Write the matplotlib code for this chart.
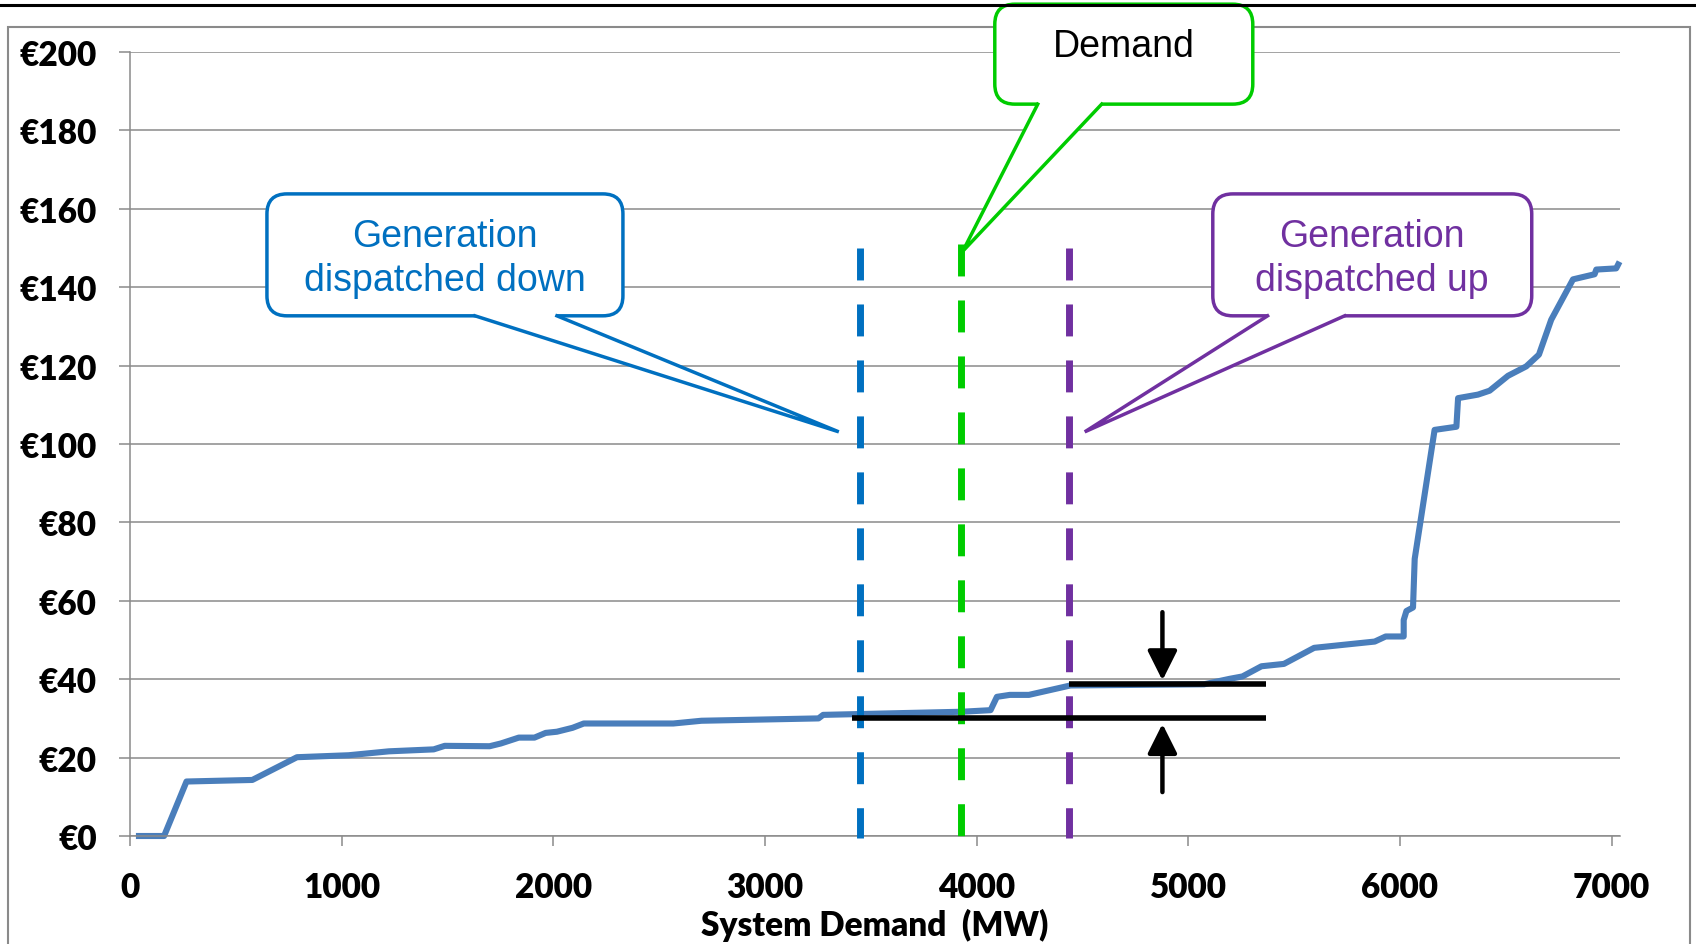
import matplotlib
matplotlib.use("Agg")
import matplotlib.pyplot as plt
from matplotlib.patches import FancyBboxPatch, Polygon, Rectangle
from matplotlib.lines import Line2D

# Merit-order supply curve: cumulative capacity (MW) against offer price (EUR)
demand_mw = [28, 161, 267, 578, 789, 1033, 1223, 1435, 1487, 1699,
             1752, 1837, 1911, 1964, 2017, 2091, 2144, 2567, 2700, 3253,
             3275, 3931, 4066, 4096, 4157, 4247, 4443, 5075, 5196, 5256,
             5346, 5452, 5595, 5881, 5933, 6018, 6018, 6031, 6062, 6070,
             6164, 6267, 6275, 6369, 6424, 6511, 6597, 6657, 6715, 6818,
             6920, 6928, 7022, 7038]
price_eur = [0, 0, 13.9, 14.3, 20.1, 20.6, 21.6, 22.1, 23.0, 22.9,
             23.6, 25.1, 25.1, 26.3, 26.6, 27.6, 28.7, 28.7, 29.4, 30.0,
             30.9, 31.7, 32.1, 35.5, 36.0, 36.0, 38.4, 38.7, 40.1, 40.7,
             43.3, 43.9, 48.0, 49.6, 50.9, 50.9, 55.1, 57.4, 58.3, 70.7,
             103.6, 104.4, 111.7, 112.6, 113.6, 117.4, 119.8, 122.8, 131.7, 142.0,
             143.3, 144.5, 144.8, 146.5]

y_ticks = list(range(0, 201, 20))
y_tick_labels = [f"€{v}" for v in y_ticks]
x_ticks = list(range(0, 7001, 1000))

# Demand levels (MW)
dispatch_down_mw = 3450
demand_level_mw = 3925
dispatch_up_mw = 4437

# Prices before / after redispatch (EUR)
price_low = 30.1
price_high = 38.8

W, H = 1696, 945
fig = plt.figure(figsize=(W / 100, H / 100), dpi=100)
ax = fig.add_axes([130 / W, 1 - 837 / H, 1490 / W, 784 / H])

XMAX, YMAX = 7040, 200
ax.set_xlim(0, XMAX)
ax.set_ylim(0, YMAX)

grey = "#8a8a8a"
ax.set_yticks(y_ticks, labels=y_tick_labels)
ax.set_xticks(x_ticks)
ax.grid(axis="y", color=grey, lw=1.1, zorder=0)
ax.set_axisbelow(True)
for s in ("top", "right"):
    ax.spines[s].set_visible(False)
for s in ("left", "bottom"):
    ax.spines[s].set_color(grey)
    ax.spines[s].set_linewidth(1.1)
ax.tick_params(axis="y", direction="out", length=8, width=1.1, color=grey, pad=16, labelsize=24)
ax.tick_params(axis="x", direction="out", length=7, width=1.1, color=grey, pad=18, labelsize=24)
for lab in ax.get_xticklabels() + ax.get_yticklabels():
    lab.set_fontfamily("Lato")
    lab.set_fontweight("heavy")
ax.set_xlabel("System Demand  (MW)", fontsize=24, fontweight="heavy",
              family="Lato", labelpad=4)

# supply curve
ax.plot(demand_mw, price_eur, color="#4A7EBB", lw=4.4, solid_joinstyle="round",
        solid_capstyle="butt", zorder=2, clip_on=False)

# demand markers
dash = (0, (4.6, 3.46))
ax.plot([dispatch_down_mw] * 2, [150, -0.5], color="#0070C0", lw=5, linestyle=dash,
        dash_capstyle="butt", zorder=3, clip_on=False)
ax.plot([demand_level_mw] * 2, [151, 0], color="#00CC00", lw=5, linestyle=dash,
        dash_capstyle="butt", zorder=3, clip_on=False)
ax.plot([dispatch_up_mw] * 2, [150, -0.5], color="#7030A0", lw=5, linestyle=dash,
        dash_capstyle="butt", zorder=3, clip_on=False)

# price levels and arrows
ax.plot([3413, 5366], [price_low] * 2, color="black", lw=4, solid_capstyle="butt", zorder=4)
ax.plot([dispatch_up_mw, 5366], [price_high] * 2, color="black", lw=4, solid_capstyle="butt", zorder=4)
arrow_kw = dict(arrowstyle="-|>,head_length=0.4,head_width=0.2", mutation_scale=45,
                lw=3.2, color="black", shrinkA=0, shrinkB=0)
ax.annotate("", xy=(4878, price_high + 0.9), xytext=(4878, 57.1), arrowprops=arrow_kw, zorder=4)
ax.annotate("", xy=(4878, price_low - 1.5), xytext=(4878, 11.2), arrowprops=arrow_kw, zorder=4)

# callouts
sx = ax.bbox.width / XMAX   # px per MW
sy = ax.bbox.height / YMAX  # px per EUR


def callout(x0, x1, y0, y1, base_l, base_r, tip, color):
    r = 20 / sx
    box = FancyBboxPatch((x0, y0), x1 - x0, y1 - y0,
                         boxstyle=f"round,pad=0,rounding_size={r}",
                         mutation_aspect=sx / sy, fc="white", ec=color, lw=2.5,
                         zorder=6, clip_on=False)
    ax.add_patch(box)
    eps = 4 / sy
    tail = Polygon([(base_l, y0 + eps), (base_l, y0), tip, (base_r, y0), (base_r, y0 + eps)],
                   closed=True, fc="white", ec="none", zorder=7, clip_on=False)
    ax.add_patch(tail)
    ax.add_line(Line2D([base_l, tip[0], base_r], [y0, tip[1], y0], color=color, lw=2.5,
                       zorder=8, clip_on=False, solid_joinstyle="miter"))


callout(647, 2329, 132.7, 163.8, 1630, 2017, (3349, 103.1), "#0070C0")
ax.text((647 + 2329) / 2, 147.5, "Generation\ndispatched down", ha="center", va="center",
        fontsize=27, color="#0070C0", family="Liberation Sans", linespacing=1.3, zorder=9)

callout(4086, 5305, 186.7, 212.2, 4289, 4591, (3935, 149.2), "#00CC00")
ax.text((4086 + 5305) / 2, 201.6, "Demand", ha="center", va="center",
        fontsize=27, color="black", family="Liberation Sans", zorder=9, clip_on=False)

callout(5116, 6623, 132.7, 163.8, 5375, 5739, (4511, 103.1), "#7030A0")
ax.text((5116 + 6623) / 2, 147.5, "Generation\ndispatched up", ha="center", va="center",
        fontsize=27, color="#7030A0", family="Liberation Sans", linespacing=1.3, zorder=9)

# outer chart frame and top rule
fig.add_artist(Rectangle((7.5 / W, -0.1), (1690 - 7.5) / W, 1.1 - 28 / H,
                         transform=fig.transFigure, fill=False, ec=grey, lw=1.5, zorder=0))
fig.add_artist(Line2D([0, 1], [1 - 5.5 / H] * 2, transform=fig.transFigure,
                      color="black", lw=2.2, zorder=10))

fig.savefig("out.png", dpi=100)
